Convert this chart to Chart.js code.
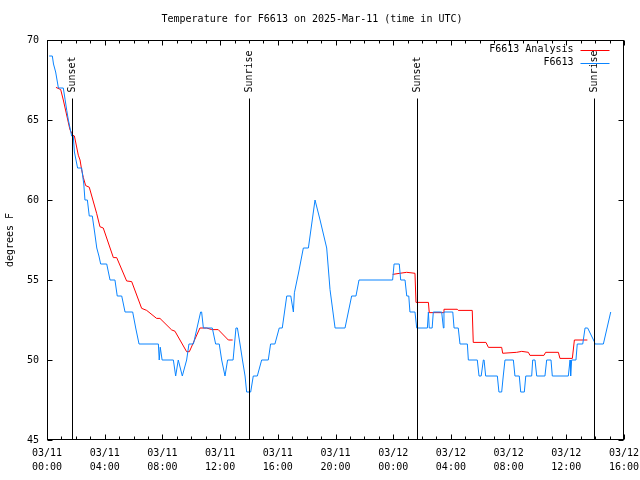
<!DOCTYPE html>
<html>
<head>
<meta charset="utf-8">
<script src="https://cdn.jsdelivr.net/npm/chart.js@4.4.1/dist/chart.umd.min.js"></script>
<style>
  html, body { margin: 0; padding: 0; background: #fff; }
</style>
</head>
<body>
<canvas id="tempChart" width="640" height="480"></canvas>
<script>
// hours since 03/11 00:00 UTC
const obsHours = [0.15, 0.37, 0.45, 0.6, 0.79, 1.13, 1.25, 1.37, 1.48, 1.71, 1.82, 1.9, 2.12, 2.4, 2.55, 2.63, 2.8, 2.93, 3.14,
  3.3, 3.45, 3.6, 3.72, 4.14, 4.37, 4.71, 4.87, 5.18, 5.41, 5.94, 6.15, 6.38, 7.72, 7.78, 7.85, 7.98, 8.76, 8.92, 9.1, 9.38,
  9.68, 9.84, 10.15, 10.4, 10.65, 10.72, 10.84, 11.46, 11.69, 11.94, 12.11, 12.34, 12.52, 12.9, 13.1, 13.2, 13.38, 13.55,
  13.73, 13.84, 14.12, 14.3, 14.58, 14.88, 15.34, 15.5, 15.8, 16.1, 16.31, 16.62, 16.9, 17.08, 17.15, 17.45, 17.77, 18.12,
  18.58, 18.62, 18.93, 19.39, 19.62, 19.97, 20.66, 21.12, 21.42, 21.63, 23.96, 24.06, 24.42, 24.52, 24.82, 24.94, 25.08,
  25.16, 25.51, 25.63, 26.37, 26.44, 26.5, 26.7, 26.78, 27.36, 27.48, 27.52, 28.13, 28.22, 28.51, 28.63, 29.14, 29.21,
  29.83, 29.95, 30.1, 30.25, 30.3, 30.41, 31.22, 31.33, 31.52, 31.63, 31.75, 32.33, 32.44, 32.74, 32.84, 33.09, 33.19,
  33.6, 33.67, 33.83, 33.95, 34.52, 34.64, 34.94, 35.03, 36.14, 36.26, 36.3, 36.37, 36.67, 36.76, 37.14, 37.3, 37.48,
  37.94, 37.99, 38.57, 39.08];
const obsTemps = [69, 69, 68.5, 68, 67, 67, 66.3, 65.6, 65, 64, 64, 63, 62, 62, 61, 60, 60, 59, 59,
  58, 57, 56.5, 56, 56, 55, 55, 54, 54, 53, 53, 52, 51, 51, 50, 50.8, 50, 50, 49, 50, 49,
  50, 51, 51, 52, 53, 53, 52, 52, 51, 51, 50, 49, 50, 50, 52, 52, 51, 50,
  49, 48, 48, 49, 49, 50, 50, 51, 51, 52, 52, 54, 54, 53, 54.2, 55.5, 57, 57,
  60, 60, 58.75, 57, 54.4, 52, 52, 54, 54, 55, 55, 56, 56, 55, 55, 54, 54,
  53, 53, 52, 52, 53, 52, 52, 53, 53, 52, 53, 53, 52, 52, 51, 51, 50,
  50, 49, 49, 50, 50, 49, 49, 48, 48, 49, 50, 50, 49, 49, 48, 48, 49,
  49, 50, 50, 49, 49, 50, 50, 49, 49, 50, 49, 50, 50, 51, 51, 52, 52,
  51.15, 51, 51, 53];

const anaHours = [0.62, 0.95, 1.13, 1.59, 1.78, 1.9, 2.17, 2.29, 2.4, 2.52, 2.68, 2.93, 3.44, 3.67, 3.9, 4.6, 4.83, 5.52,
  5.87, 6.56, 6.91, 7.6, 7.83, 8.64, 8.87, 9.68, 9.87, 10.6, 11.07, 11.42, 11.87, 12.57, 12.87,
  18, 23.96, 24.47, 24.93, 25.51, 25.58, 26.44, 26.5, 27.47, 27.52, 28.44, 28.51, 29.48, 29.55, 30.43, 30.6, 31.52,
  31.59, 32.56, 32.91, 33.37, 33.48, 34.45, 34.57, 35.45, 35.56, 36.42, 36.56, 37.46];
const anaTemps = [67.04, 66.9, 66.25, 64.4, 64.06, 64.0, 62.8, 62.5, 61.9, 61.4, 60.9, 60.8, 59.17, 58.33, 58.25, 56.4, 56.4, 54.94,
  54.9, 53.23, 53.1, 52.6, 52.6, 51.88, 51.8, 50.52, 50.52, 52, 52, 51.9, 51.9, 51.25, 51.25,
  null, 55.35, 55.42, 55.48, 55.42, 53.6, 53.6, 52.96, 52.96, 53.17, 53.17, 53.1, 53.1, 51.1, 51.1, 50.79, 50.79,
  50.42, 50.48, 50.54, 50.48, 50.29, 50.29, 50.48, 50.48, 50.1, 50.1, 51.25, 51.25];

const sunHours = [1.73, 14.02, 25.65, 37.92];
const sunLabels = ['Sunset', 'Sunrise', 'Sunset', 'Sunrise'];

const xTickLabels = [
  ['03/11', '00:00'], ['03/11', '04:00'], ['03/11', '08:00'], ['03/11', '12:00'],
  ['03/11', '16:00'], ['03/11', '20:00'], ['03/12', '00:00'], ['03/12', '04:00'],
  ['03/12', '08:00'], ['03/12', '12:00'], ['03/12', '16:00']
];

const FONT = '"DejaVu Sans Mono", "Liberation Mono", monospace';

const toPoints = (xs, ys) => xs.map((h, i) => ({ x: h, y: ys[i] }));

// frame, inward ticks, sunrise/sunset markers and the legend
const overlay = {
  id: 'overlay',
  afterDraw(chart) {
    const { ctx, chartArea: a, scales: { x, y } } = chart;
    const L = Math.round(a.left) + 0.5, R = Math.round(a.right) - 0.5;
    const T = Math.round(a.top) + 0.5, B = Math.round(a.bottom) - 0.5;
    ctx.save();
    ctx.strokeStyle = '#000';
    ctx.lineWidth = 1;
    ctx.strokeRect(L, T, R - L, B - T);

    ctx.beginPath();
    for (let h = 0; h <= 40; h++) {
      const px = Math.round(x.getPixelForValue(h)) + 0.5;
      const len = h % 4 === 0 ? 5 : 3;
      ctx.moveTo(px, B); ctx.lineTo(px, B - len);
      ctx.moveTo(px, T); ctx.lineTo(px, T + len);
    }
    for (let v = 45; v <= 70; v += 5) {
      const py = Math.round(y.getPixelForValue(v)) + 0.5;
      ctx.moveTo(L, py); ctx.lineTo(L + 5, py);
      ctx.moveTo(R, py); ctx.lineTo(R - 5, py);
    }
    ctx.stroke();

    ctx.font = '10px ' + FONT;
    ctx.fillStyle = '#000';
    sunHours.forEach((h, i) => {
      const px = Math.round(x.getPixelForValue(h)) + 0.5;
      ctx.beginPath();
      ctx.moveTo(px, T + 58);
      ctx.lineTo(px, B);
      ctx.stroke();
      ctx.save();
      ctx.translate(px, T + 52);
      ctx.rotate(-Math.PI / 2);
      ctx.textAlign = 'left';
      ctx.textBaseline = 'middle';
      ctx.fillText(sunLabels[i], 0, 0);
      ctx.restore();
    });

    chart.data.datasets.forEach((ds, i) => {
      const yy = T + 9 + i * 13;
      ctx.textAlign = 'right';
      ctx.textBaseline = 'middle';
      ctx.fillStyle = '#000';
      ctx.fillText(ds.label, R - 50, yy);
      ctx.strokeStyle = ds.borderColor;
      ctx.beginPath();
      ctx.moveTo(R - 43, Math.round(yy) + 0.5);
      ctx.lineTo(R - 14, Math.round(yy) + 0.5);
      ctx.stroke();
    });
    ctx.restore();
  }
};

window.onload = () => {
  const ctx = document.getElementById('tempChart').getContext('2d');

  new Chart(ctx, {
    type: 'line',
    data: {
      datasets: [
        {
          label: 'F6613 Analysis',
          data: toPoints(anaHours, anaTemps),
          borderColor: '#ff0000',
          borderWidth: 1,
          pointRadius: 0,
          spanGaps: false,
          order: 2
        },
        {
          label: 'F6613',
          data: toPoints(obsHours, obsTemps),
          borderColor: '#0a84ff',
          borderWidth: 1,
          pointRadius: 0,
          order: 1
        }
      ]
    },
    options: {
      responsive: false,
      animation: false,
      layout: { padding: { left: 0, right: 16, top: 0, bottom: 0 } },
      scales: {
        x: {
          type: 'linear',
          min: 0,
          max: 40,
          afterFit: s => { s.height = 40; s.paddingLeft = 0; s.paddingRight = 0; },
          grid: { display: false, drawTicks: false },
          border: { display: false },
          ticks: {
            stepSize: 4,
            autoSkip: false,
            maxRotation: 0,
            padding: 6,
            color: '#000',
            font: { family: FONT, size: 10, lineHeight: 1.4 },
            callback: (v) => xTickLabels[v / 4]
          }
        },
        y: {
          min: 45,
          max: 70,
          afterFit: s => { s.width = 47; s.paddingTop = 0; s.paddingBottom = 0; },
          grid: { display: false, drawTicks: false },
          border: { display: false },
          title: {
            display: true,
            text: 'degrees F',
            color: '#000',
            font: { family: FONT, size: 10 },
            padding: { top: 4, bottom: 0 }
          },
          ticks: {
            stepSize: 5,
            padding: 8,
            color: '#000',
            font: { family: FONT, size: 10 }
          }
        }
      },
      plugins: {
        legend: { display: false },
        tooltip: { enabled: false },
        title: {
          display: true,
          text: 'Temperature for F6613 on 2025-Mar-11 (time in UTC)',
          color: '#000',
          font: { family: FONT, size: 10, weight: 'normal' },
          padding: { top: 13, bottom: 15 }
        }
      }
    },
    plugins: [overlay]
  });
};
</script>
</body>
</html>
